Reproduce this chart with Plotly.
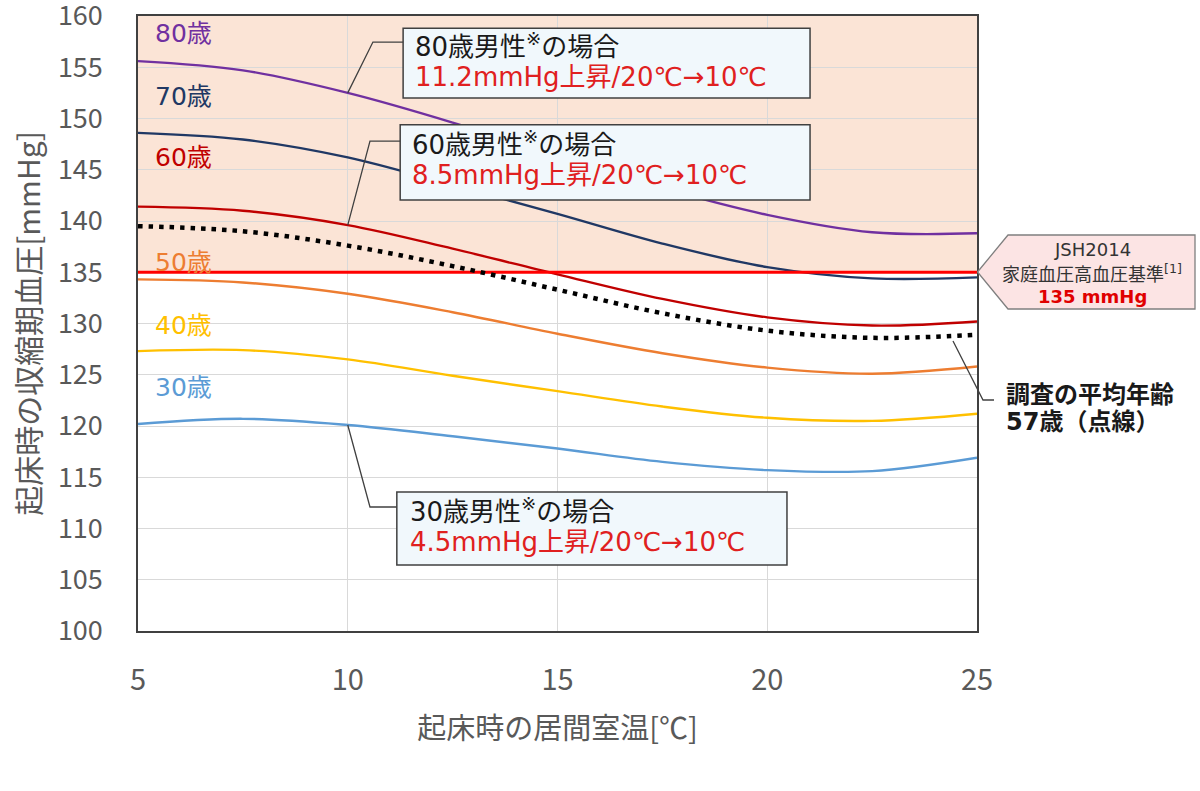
import plotly.graph_objects as go

# ---------------- data ----------------
temps = [5, 7.5, 10, 12.5, 15, 17.5, 20, 22.5, 25]
bp_80 = [155.6, 154.7, 152.5, 149.6, 146.3, 143.2, 140.6, 138.9, 138.8]
bp_70 = [148.6, 147.95, 146.2, 143.5, 140.7, 137.8, 135.5, 134.4, 134.5]
bp_60 = [141.4, 141.0, 139.6, 137.3, 134.8, 132.4, 130.6, 129.8, 130.2]
bp_57 = [139.5, 139.0, 137.6, 135.6, 133.3, 131.0, 129.3, 128.6, 128.9]
bp_50 = [134.3, 134.0, 132.9, 131.1, 129.0, 127.1, 125.7, 125.1, 125.8]
bp_40 = [127.3, 127.4, 126.5, 124.9, 123.4, 121.9, 120.8, 120.5, 121.2]
bp_30 = [120.2, 120.7, 120.1, 119.0, 117.8, 116.5, 115.7, 115.6, 116.9]
threshold = 135
x_ticks = [5, 10, 15, 20, 25]
y_ticks = list(range(100, 161, 5))

series = [
    ("80歳", bp_80, "#7030A0", 158.3),
    ("70歳", bp_70, "#203864", 152.1),
    ("60歳", bp_60, "#C00000", 146.15),
    ("50歳", bp_50, "#ED7D31", 136.0),
    ("40歳", bp_40, "#FFC000", 129.85),
    ("30歳", bp_30, "#5B9BD5", 123.8),
]

FONT = "Noto Sans CJK JP"
TFONT = "DejaVu Sans, Noto Sans CJK JP"
W, H = 1200, 791
ML, MR, MT, MB = 138, 223, 16, 160
PW, PH = W - ML - MR, H - MT - MB


def px(x):  # pixel -> paper x
    return (x - ML) / PW


def py(y):  # pixel -> paper y
    return (H - MB - y) / PH


fig = go.Figure()

for name, vals, color, _ in series:
    fig.add_trace(go.Scatter(x=temps, y=vals, mode="lines", name=name,
                             line=dict(color=color, width=2.4, shape="spline"),
                             showlegend=False))

fig.add_trace(go.Scatter(x=[temps[0], temps[-1]], y=[threshold, threshold], mode="lines",
                         line=dict(color="#FF0000", width=3), showlegend=False))

fig.add_trace(go.Scatter(x=temps, y=bp_57, mode="lines", name="57歳",
                         line=dict(color="black", width=4.5, dash="4.5px,6px", shape="spline"),
                         showlegend=False))

shapes = []
shapes.append(dict(type="rect", xref="x", yref="y", x0=5, x1=25, y0=threshold, y1=160,
                   fillcolor="#FBE4D6", line=dict(width=0), layer="below"))

box_fill = "#F1F8FC"
box_line = dict(color="#404040", width=1.5)
lead = dict(color="#404040", width=1.3)
# 80 box
shapes.append(dict(type="rect", xref="x", yref="y", x0=11.32, x1=21.02, y0=152.0, y1=158.8,
                   fillcolor=box_fill, line=box_line))
shapes.append(dict(type="path", xref="x", yref="y",
                   path=f"M 10,{bp_80[2]} L 10.6,157.46 L 11.32,157.46", line=lead))
# 60 box
shapes.append(dict(type="rect", xref="x", yref="y", x0=11.25, x1=21.02, y0=142.05, y1=149.4,
                   fillcolor=box_fill, line=box_line))
shapes.append(dict(type="path", xref="x", yref="y",
                   path=f"M 10,{bp_60[2]} L 10.53,147.8 L 11.25,147.8", line=lead))
# 30 box
shapes.append(dict(type="rect", xref="x", yref="y", x0=11.17, x1=20.47, y0=106.44, y1=113.56,
                   fillcolor=box_fill, line=box_line))
shapes.append(dict(type="path", xref="x", yref="y",
                   path=f"M 10,{bp_30[2]} L 10.53,112.1 L 11.17,112.1", line=lead))
# JSH pentagon
shapes.append(dict(type="path", xref="paper", yref="paper",
                   path=(f"M {px(977.5)},{py(272)} L {px(1008)},{py(235)} L {px(1195)},{py(235)} "
                         f"L {px(1195)},{py(309)} L {px(1008)},{py(309)} Z"),
                   fillcolor="#FCE4E4", line=dict(color="#7F7F7F", width=1.3)))
# leader for average age
shapes.append(dict(type="path", xref="paper", yref="paper",
                   path=f"M {px(953)},{py(341)} L {px(983)},{py(400)} L {px(994)},{py(400)}",
                   line=lead))

annotations = []
for name, vals, color, ylab in series:
    annotations.append(dict(x=5.35, y=ylab, xref="x", yref="y", text=name, showarrow=False,
                            xanchor="left", yanchor="middle",
                            font=dict(family=TFONT, size=25, color=color)))


def box_text(x_pix, y1_pix, line1, line2):
    annotations.append(dict(x=px(x_pix), y=py(y1_pix), xref="paper", yref="paper", text=line1,
                            showarrow=False, xanchor="left", yanchor="middle",
                            font=dict(family=TFONT, size=26, color="#1A1A1A")))
    annotations.append(dict(x=px(x_pix), y=py(y1_pix + 32), xref="paper", yref="paper", text=line2,
                            showarrow=False, xanchor="left", yanchor="middle",
                            font=dict(family=TFONT, size=26, color="#E02020")))


box_text(413, 45, "80歳男性<sup>※</sup>の場合", "11.2mmHg上昇/20℃→10℃")
box_text(410, 143, "60歳男性<sup>※</sup>の場合", "8.5mmHg上昇/20℃→10℃")
box_text(408, 510, "30歳男性<sup>※</sup>の場合", "4.5mmHg上昇/20℃→10℃")

annotations.append(dict(x=px(1092), y=py(249), xref="paper", yref="paper", text="JSH2014",
                        showarrow=False, xanchor="center", yanchor="middle",
                        font=dict(family=TFONT, size=18, color="#333333")))
annotations.append(dict(x=px(1092), y=py(273), xref="paper", yref="paper",
                        text="家庭血圧高血圧基準<sup>[1]</sup>",
                        showarrow=False, xanchor="center", yanchor="middle",
                        font=dict(family=TFONT, size=18, color="#333333")))
annotations.append(dict(x=px(1092), y=py(296), xref="paper", yref="paper", text="<b>135 mmHg</b>",
                        showarrow=False, xanchor="center", yanchor="middle",
                        font=dict(family=TFONT, size=18, color="#E00000")))

annotations.append(dict(x=px(1004), y=py(395), xref="paper", yref="paper", text="<b>調査の平均年齢</b>",
                        showarrow=False, xanchor="left", yanchor="middle",
                        font=dict(family=TFONT, size=24, color="#1A1A1A")))
annotations.append(dict(x=px(1004), y=py(422), xref="paper", yref="paper", text="<b>57歳（点線）</b>",
                        showarrow=False, xanchor="left", yanchor="middle",
                        font=dict(family=TFONT, size=24, color="#1A1A1A")))

fig.update_layout(
    width=W, height=H,
    margin=dict(l=ML, r=MR, t=MT, b=MB, autoexpand=False),
    paper_bgcolor="white", plot_bgcolor="rgba(0,0,0,0)",
    shapes=shapes, annotations=annotations,
    font=dict(family=FONT, color="#595959"),
)
fig.update_xaxes(range=[5, 25], tickvals=x_ticks, showgrid=True, gridcolor="#D9D9D9", gridwidth=1,
                 showline=True, linecolor="#404040", linewidth=1.5, mirror=True, zeroline=False,
                 ticks="", ticklabelstandoff=22, ticklabeloverflow="allow",
                 tickfont=dict(family=FONT, size=29, color="#595959"),
                 title=dict(text="起床時の居間室温[℃]", standoff=22,
                            font=dict(family=FONT, size=29, color="#595959")))
fig.update_yaxes(range=[100, 160], tickvals=y_ticks, showgrid=True, gridcolor="#D9D9D9", gridwidth=1,
                 showline=True, linecolor="#404040", linewidth=1.5, mirror=True, zeroline=False,
                 ticks="", ticklabelstandoff=28, ticklabeloverflow="allow",
                 tickfont=dict(family=FONT, size=27, color="#595959"),
                 title=dict(text="起床時の収縮期血圧[mmHg]", standoff=8,
                            font=dict(family=FONT, size=30, color="#595959")))

fig.write_html("out.html")
